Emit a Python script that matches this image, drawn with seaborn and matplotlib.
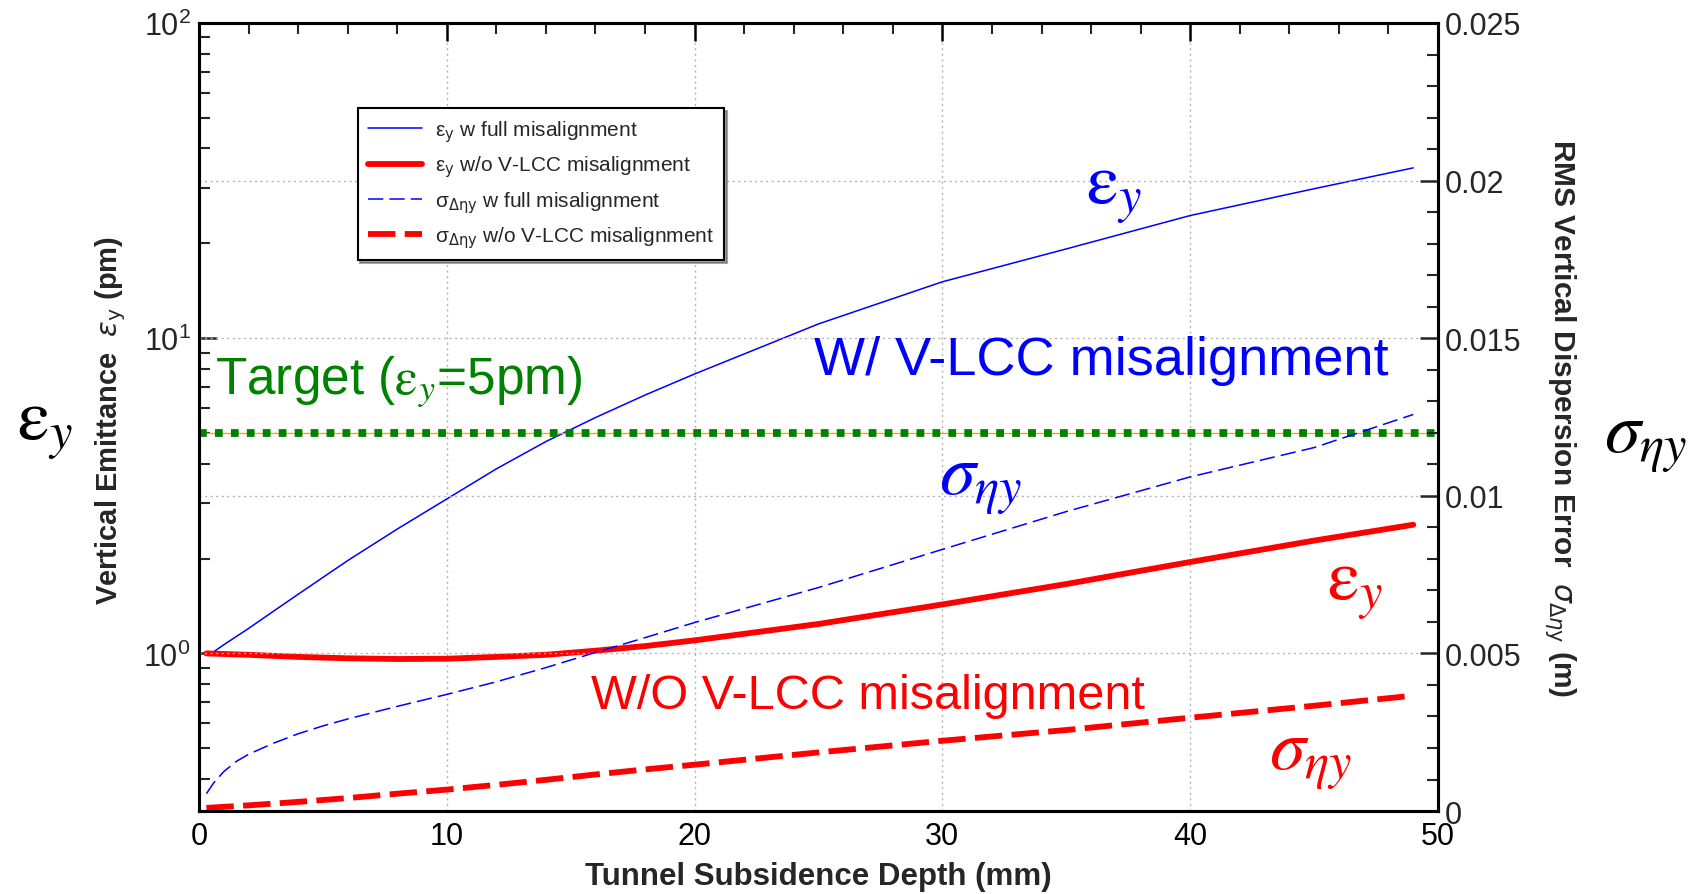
import numpy as np
import matplotlib
matplotlib.use('Agg')
import matplotlib.pyplot as plt
import seaborn as sns
from matplotlib.ticker import MultipleLocator, FuncFormatter, LogLocator, NullFormatter, FixedLocator

# ---------------- data ----------------
x_eps_full = [0.5, 1, 2, 3, 4, 6, 8, 10, 12, 14, 16, 18, 20, 25, 30, 35, 40, 45, 49]
eps_full = [1.0, 1.065, 1.2, 1.36, 1.54, 1.97, 2.48, 3.09, 3.85, 4.7, 5.6, 6.6, 7.7,
            11.1, 15.1, 19.2, 24.5, 29.8, 34.7]

x_eps_nolcc = [0.3, 2, 4, 6, 8, 10, 12, 14, 16, 18, 20, 25, 30, 35, 40, 45, 49]
eps_nolcc = [1.0, 0.99, 0.975, 0.965, 0.96, 0.962, 0.975, 0.99, 1.02, 1.055, 1.10,
             1.24, 1.43, 1.66, 1.95, 2.28, 2.56]

x_sig_full = [0.3, 0.6, 1, 1.5, 2, 3, 4, 5, 6, 8, 10, 12, 14, 16, 18, 20, 25, 30, 35, 40, 45, 49]
sig_full = [0.00055, 0.0009, 0.00125, 0.00157, 0.0018, 0.00215, 0.00245, 0.0027, 0.00292,
            0.00332, 0.0037, 0.0041, 0.00455, 0.00503, 0.0055, 0.00598, 0.00709, 0.0083,
            0.0095, 0.0106, 0.01153, 0.01258]

x_sig_nolcc = [0.3, 2, 4, 6, 8, 10, 12, 14, 16, 18, 20, 25, 30, 35, 40, 45, 49]
sig_nolcc = [0.0001, 0.00018, 0.00029, 0.00041, 0.00055, 0.00068, 0.00083, 0.00099, 0.00116,
             0.00132, 0.00147, 0.00186, 0.00223, 0.00257, 0.00296, 0.00334, 0.00366]

target_eps = 5.0

legend_labels = [r'ε$_{\mathrm{y}}$ w full misalignment',
                 r'ε$_{\mathrm{y}}$ w/o V-LCC misalignment',
                 r'σ$_{\mathrm{\Delta\eta y}}$ w full misalignment',
                 r'σ$_{\mathrm{\Delta\eta y}}$ w/o V-LCC misalignment']

x_ticks = [0, 10, 20, 30, 40, 50]
right_ticks = [0, 0.005, 0.01, 0.015, 0.02, 0.025]

# ---------------- style ----------------
sns.set_theme(style='white')
plt.rcParams['font.family'] = ['Liberation Sans', 'DejaVu Sans']
plt.rcParams['mathtext.fontset'] = 'dejavusans'
plt.rcParams['axes.linewidth'] = 2.2

BLUE = '#0000FF'
RED = '#FF0000'
GREEN = '#008200'

fig = plt.figure(figsize=(17.02, 8.95), dpi=100)
ax = fig.add_axes([0.1169, 0.0927, 0.7280, 0.8805])
ax2 = ax.twinx()

ax.set_yscale('log')

# lines
sns.lineplot(x=x_eps_full, y=eps_full, ax=ax, color=BLUE, linewidth=1.1,
             sort=False, estimator=None, label=legend_labels[0], legend=False)
sns.lineplot(x=x_eps_nolcc, y=eps_nolcc, ax=ax, color=RED, linewidth=4.2,
             sort=False, estimator=None, label=legend_labels[1], legend=False)
ax.axhline(target_eps, color='#FFA500', lw=1.0, zorder=3)
ax.axhline(target_eps, color=GREEN, lw=5.6, linestyle=(0, (1.0, 1.05)), zorder=4)

sns.lineplot(x=x_sig_full, y=sig_full, ax=ax2, color=BLUE, linewidth=1.1,
             linestyle=(0, (10, 4)), sort=False, estimator=None,
             label=legend_labels[2], legend=False)
sns.lineplot(x=x_sig_nolcc, y=sig_nolcc, ax=ax2, color=RED, linewidth=4.2,
             linestyle=(0, (4.7, 1.6)), sort=False, estimator=None,
             label=legend_labels[3], legend=False)

# limits
ax.set_xlim(0, 50)
ax.set_ylim(10 ** -0.5, 100)
ax2.set_ylim(0, 0.025)

# ticks
ax.xaxis.set_major_locator(FixedLocator(x_ticks))
ax.xaxis.set_minor_locator(MultipleLocator(2))
ax.yaxis.set_major_locator(LogLocator(base=10, numticks=10))
ax.yaxis.set_minor_locator(LogLocator(base=10, subs=np.arange(2, 10), numticks=20))
ax.yaxis.set_minor_formatter(NullFormatter())
ax2.yaxis.set_major_locator(FixedLocator(right_ticks))
ax2.yaxis.set_minor_locator(MultipleLocator(0.001))
ax2.yaxis.set_major_formatter(FuncFormatter(lambda v, p: '%g' % v))

ax.tick_params(axis='x', which='major', direction='in', length=13, width=1.8,
               top=True, labelsize=22, pad=7, colors='black')
ax.tick_params(axis='x', which='minor', direction='in', length=8, width=1.5, top=True)
ax.tick_params(axis='y', which='major', direction='in', length=13, width=1.8,
               right=False, left=True, labelsize=22, pad=6)
ax.tick_params(axis='y', which='minor', direction='in', length=8, width=1.5,
               right=False, left=True)
ax2.tick_params(axis='y', which='major', direction='in', length=13, width=1.8,
                right=True, left=False, labelsize=22, pad=5)
ax2.tick_params(axis='y', which='minor', direction='in', length=8, width=1.5,
                right=True, left=False)

# grid
grid_kw = dict(color='#b4b4b4', linestyle=(0, (1.5, 2.5)), linewidth=1.0)
ax.xaxis.grid(True, **grid_kw)
ax.yaxis.grid(False)
ax2.yaxis.grid(True, **grid_kw)
ax2.xaxis.grid(False)
ax.set_axisbelow(True)

for a in (ax, ax2):
    for s in a.spines.values():
        s.set_color('black')
        s.set_linewidth(2.2)

# axis labels
lab_font = dict(family=['Liberation Sans Narrow', 'Liberation Sans', 'DejaVu Sans'],
                weight='bold', size=21)
ax.set_xlabel('Tunnel Subsidence Depth (mm)',
              **{**lab_font, 'size': 22.5})
ax.xaxis.set_label_coords(0.5, -0.083)
ax.xaxis.label.set_va('center')
ax.set_ylabel(r'Vertical Emittance  $\varepsilon_{\mathrm{y}}$ (pm)', **lab_font)
ax.yaxis.set_label_coords(-0.071, 0.497)
ax.yaxis.label.set_va('center')
ax2.set_ylabel(r'RMS Vertical Dispersion Error  $\sigma_{\Delta\eta\mathrm{y}}$ (m)',
               rotation=-90, **{**lab_font, 'size': 21.5})
ax2.yaxis.set_label_coords(1.099, 0.5)
ax2.yaxis.label.set_va('center')

# legend
handles = ax.get_lines()[:2] + ax2.get_lines()[:2]
if ax.get_legend() is not None:
    ax.get_legend().remove()
leg = ax2.legend(handles, legend_labels, loc='upper left', bbox_to_anchor=(0.128, 0.892),
                 frameon=True, fancybox=False, shadow=True, edgecolor='black',
                 facecolor='white', framealpha=1, fontsize=15, handlelength=2.6,
                 handletextpad=0.6, borderpad=0.5, labelspacing=0.45, borderaxespad=0)
leg.get_frame().set_linewidth(1.5)

# annotations
ax2.text(0.0129, 0.545, r'Target ($\mathrm{\varepsilon}_y$=5pm)', transform=ax.transAxes,
         color=GREEN, fontsize=37, ha='left', va='center', math_fontfamily='stix')
ax2.text(0.728, 0.572, 'W/ V-LCC misalignment', transform=ax.transAxes,
         color=BLUE, fontsize=39, ha='center', va='center')
ax2.text(0.540, 0.146, 'W/O V-LCC misalignment', transform=ax.transAxes,
         color=RED, fontsize=35, ha='center', va='center')

big = dict(fontsize=52, ha='center', va='center', math_fontfamily='stix')
ax2.text(0.739, 0.785, r'$\mathrm{\varepsilon}_y$', transform=ax.transAxes, color=BLUE, **big)
ax2.text(0.631, 0.415, r'$\sigma_{\eta y}$', transform=ax.transAxes, color=BLUE, **big)
ax2.text(0.933, 0.282, r'$\mathrm{\varepsilon}_y$', transform=ax.transAxes, color=RED, **big)
ax2.text(0.897, 0.067, r'$\sigma_{\eta y}$', transform=ax.transAxes, color=RED, **big)
fig.text(0.0264, 0.5196, r'$\mathrm{\varepsilon}_y$', color='black', **big)
fig.text(0.967, 0.506, r'$\sigma_{\eta y}$', color='black', **big)

fig.savefig('out.png', dpi=100, facecolor='white')
